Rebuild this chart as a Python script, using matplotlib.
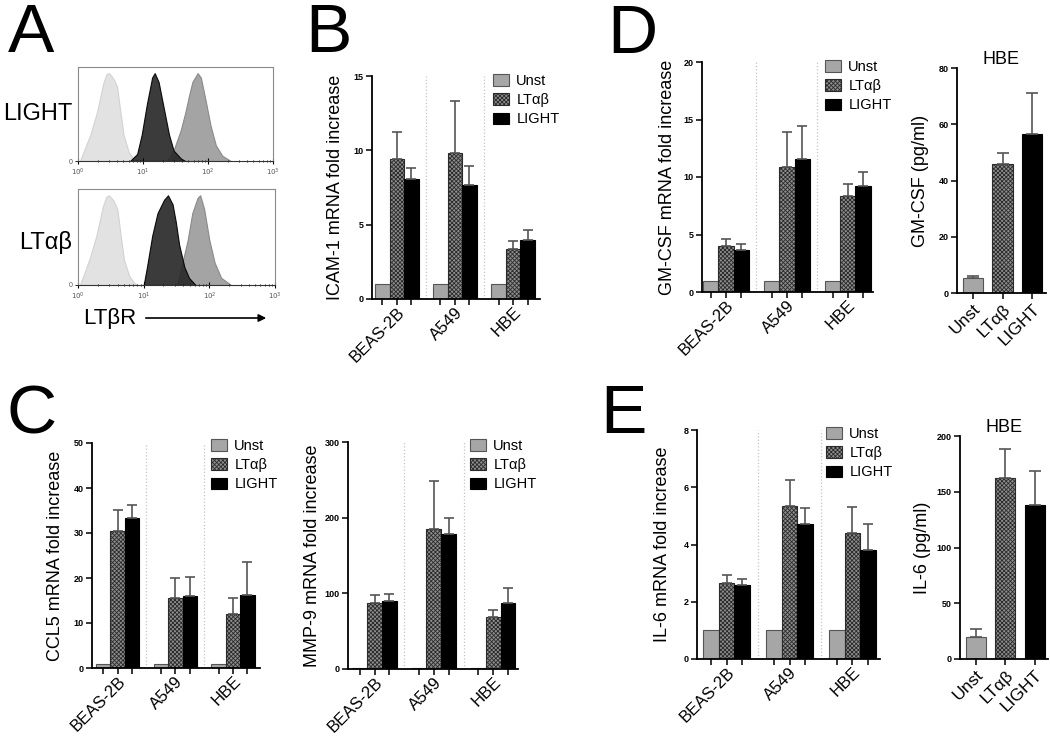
import matplotlib
matplotlib.use("Agg")
import matplotlib.pyplot as plt
from matplotlib.patches import Patch, FancyArrowPatch
import numpy as np

plt.rcParams["font.family"] = ["Liberation Sans", "DejaVu Sans"]
plt.rcParams["hatch.linewidth"] = 0.6

W, H = 1050, 740

cell_lines = ["BEAS-2B", "A549", "HBE"]
treatments = ["Unst", "LTαβ", "LIGHT"]

# rows = Unst, LTab, LIGHT ; columns = cell lines
icam_means = [[1.0, 1.0, 1.0], [9.45, 9.8, 3.33], [8.05, 7.65, 3.96]]
icam_err = [[0, 0, 0], [1.75, 3.5, 0.54], [0.75, 1.3, 0.67]]

gmcsf_means = [[1.0, 1.0, 1.0], [3.97, 10.9, 8.36], [3.68, 11.6, 9.25]]
gmcsf_err = [[0, 0, 0], [0.63, 3.0, 1.0], [0.5, 2.8, 1.2]]

gmcsf_hbe = [5.3, 45.7, 56.5]
gmcsf_hbe_err = [0.8, 4.2, 14.5]

ccl5_means = [[1.0, 1.0, 1.0], [30.4, 15.5, 11.9], [33.4, 16.0, 16.2]]
ccl5_err = [[0, 0, 0], [4.7, 4.4, 3.7], [2.9, 4.3, 7.4]]

mmp9_means = [[1.0, 1.0, 1.0], [87.8, 184.8, 69.3], [89.5, 178.2, 86.9]]
mmp9_err = [[0, 0, 0], [10.1, 63.1, 8.8], [9.7, 21.6, 20.7]]

il6_means = [[1.0, 1.0, 1.0], [2.66, 5.34, 4.39], [2.58, 4.70, 3.80]]
il6_err = [[0, 0, 0], [0.26, 0.93, 0.93], [0.2, 0.59, 0.91]]

il6_hbe = [19.4, 162.4, 138.5]
il6_hbe_err = [7.8, 25.7, 29.9]

# flow histograms (x in log10 units, y normalised counts)
iso_top_x = [0.03, 0.19, 0.29, 0.39, 0.44, 0.48, 0.55, 0.60, 0.65, 0.70, 0.78, 0.86, 0.91]
iso_top_y = [0.0, 0.3, 0.55, 0.89, 0.99, 1.0, 0.93, 0.85, 0.57, 0.3, 0.1, 0.02, 0.0]
lig_top_x = [0.80, 0.91, 0.98, 1.06, 1.14, 1.18, 1.24, 1.32, 1.40, 1.47, 1.58, 1.65]
lig_top_y = [0.0, 0.08, 0.3, 0.65, 0.95, 1.0, 0.9, 0.6, 0.3, 0.12, 0.03, 0.0]
ctl_top_x = [1.37, 1.47, 1.58, 1.65, 1.71, 1.76, 1.84, 1.89, 1.96, 2.04, 2.12, 2.22, 2.35]
ctl_top_y = [0.0, 0.12, 0.35, 0.55, 0.75, 0.9, 1.0, 0.95, 0.7, 0.4, 0.18, 0.06, 0.0]

iso_bot_x = [0.03, 0.18, 0.28, 0.38, 0.43, 0.47, 0.54, 0.60, 0.65, 0.70, 0.78, 0.86, 0.92]
iso_bot_y = [0.0, 0.3, 0.55, 0.88, 0.98, 1.0, 0.94, 0.84, 0.55, 0.28, 0.1, 0.02, 0.0]
lta_bot_x = [1.0, 1.05, 1.13, 1.21, 1.31, 1.37, 1.44, 1.49, 1.54, 1.62, 1.69, 1.79]
lta_bot_y = [0.0, 0.2, 0.55, 0.8, 0.95, 1.0, 0.9, 0.7, 0.45, 0.2, 0.08, 0.0]
ctl_bot_x = [1.51, 1.59, 1.67, 1.74, 1.82, 1.86, 1.92, 2.0, 2.08, 2.18, 2.33]
ctl_bot_y = [0.0, 0.25, 0.5, 0.8, 0.97, 1.0, 0.85, 0.5, 0.25, 0.08, 0.0]

bar_face = ["#a6a6a6", "#8e8e8e", "black"]
bar_edge = ["#555555", "#2a2a2a", "black"]
bar_hatch = [None, "xxxxxxxx", None]
err_color = "#555555"


def px_axes(fig, left: float, right: float, top: float, bottom: float):
    return fig.add_axes([left / W, 1 - bottom / H, (right - left) / W, (bottom - top) / H])


def style_axes(ax, ylim, yticks, ylabel: str, label_x: float) -> None:
    for s in ["top", "right"]:
        ax.spines[s].set_visible(False)
    for s in ["left", "bottom"]:
        ax.spines[s].set_linewidth(1.3)
    ax.set_ylim(*ylim)
    ax.set_yticks(yticks)
    ax.tick_params(axis="y", direction="out", length=4, width=1.1, labelsize=6.5, pad=2)
    for lbl in ax.get_yticklabels():
        lbl.set_fontweight("bold")
    ax.set_ylabel(ylabel, fontsize=13)
    ax.yaxis.set_label_coords(label_x, 0.5)


def add_legend(ax, fig, x: float, y: float) -> None:
    handles = [Patch(facecolor=bar_face[i], edgecolor=bar_edge[i], hatch=bar_hatch[i],
                     linewidth=0.8, label=treatments[i]) for i in range(3)]
    ax.legend(handles=handles, loc="upper left", bbox_to_anchor=(x / W, 1 - y / H),
              bbox_transform=fig.transFigure, frameon=False, fontsize=10.5,
              handlelength=1.1, handleheight=0.8, handletextpad=0.5,
              labelspacing=0.35, borderpad=0, borderaxespad=0)


def grouped_panel(fig, rect, means, errs, xlim, ylim, yticks, ylabel, label_x, leg_xy):
    ax = px_axes(fig, *rect)
    all_pos = []
    for t in range(3):
        pos = np.arange(3) * 4 + t
        all_pos += list(pos)
        ax.bar(pos, means[t], width=1.0, color=bar_face[t], edgecolor=bar_edge[t],
               hatch=bar_hatch[t], linewidth=0.8, zorder=2)
        if any(e > 0 for e in errs[t]):
            ax.errorbar(pos, means[t], yerr=[np.zeros(3), errs[t]], fmt="none",
                        ecolor=err_color, elinewidth=1.2, capsize=3.5, capthick=1.2, zorder=3)
    for xs in [3, 7]:
        ax.axvline(xs, color="#c4c4c4", ls=":", lw=0.9, zorder=0)
    ax.set_xlim(*xlim)
    ax.xaxis.remove_overlapping_locs = False
    ax.set_xticks(sorted(all_pos))
    ax.set_xticklabels([])
    ax.tick_params(axis="x", which="major", direction="out", length=4, width=1.1)
    ax.set_xticks([1, 5, 9], minor=True)
    ax.set_xticklabels(cell_lines, minor=True, rotation=45, ha="right",
                       rotation_mode="anchor", fontsize=12)
    ax.tick_params(axis="x", which="minor", length=0, pad=4)
    style_axes(ax, ylim, yticks, ylabel, label_x)
    add_legend(ax, fig, *leg_xy)
    return ax


def single_panel(fig, rect, vals, errs, xlim, ylim, yticks, ylabel, label_x):
    ax = px_axes(fig, *rect)
    pos = np.arange(3)
    ax.bar(pos, vals, width=0.68, color=bar_face, edgecolor=bar_edge,
           hatch=bar_hatch, linewidth=0.8, zorder=2)
    ax.errorbar(pos, vals, yerr=[np.zeros(3), errs], fmt="none", ecolor=err_color,
                elinewidth=1.2, capsize=4, capthick=1.2, zorder=3)
    ax.set_xlim(*xlim)
    ax.set_xticks(pos)
    ax.set_xticklabels(treatments, rotation=45, ha="right", rotation_mode="anchor", fontsize=12.5)
    ax.tick_params(axis="x", direction="out", length=4, width=1.1, pad=2)
    style_axes(ax, ylim, yticks, ylabel, label_x)
    ax.set_title("HBE", fontsize=13, pad=1)
    return ax


def flow_panel(fig, rect, curves) -> None:
    ax = px_axes(fig, *rect)
    for xs, ys, face, edge, alpha in curves:
        ax.fill_between(xs, ys, color=face, edgecolor=edge, linewidth=0.8, alpha=alpha)
    ax.set_xlim(0, 3)
    ax.set_ylim(0, 1.07)
    for s in ax.spines.values():
        s.set_color("#8a8a8a")
        s.set_linewidth(0.8)
    ax.spines["bottom"].set_color("#333333")
    ax.set_xticks([0, 1, 2, 3])
    ax.set_xticklabels(["$10^{0}$", "$10^{1}$", "$10^{2}$", "$10^{3}$"], fontsize=5, color="#555555")
    ax.set_xticks([d + np.log10(m) for d in range(3) for m in range(2, 10)], minor=True)
    ax.tick_params(axis="x", which="major", direction="inout", length=4, width=0.8, pad=2)
    ax.tick_params(axis="x", which="minor", direction="inout", length=2, width=0.6)
    ax.set_yticks([0])
    ax.set_yticklabels(["0"], fontsize=5, color="#555555")
    ax.tick_params(axis="y", length=2, width=0.6, pad=2)


fig = plt.figure(figsize=(10.5, 7.4), dpi=100)

# panel A
flow_panel(fig, (78, 273, 67, 161), [
    (iso_top_x, iso_top_y, "#e2e2e2", "#d2d2d2", 1.0),
    (ctl_top_x, ctl_top_y, "#a4a4a4", "#8a8a8a", 1.0),
    (lig_top_x, lig_top_y, "#2a2a2a", "black", 0.92),
])
flow_panel(fig, (78, 275, 189, 285), [
    (iso_bot_x, iso_bot_y, "#e2e2e2", "#d2d2d2", 1.0),
    (ctl_bot_x, ctl_bot_y, "#a4a4a4", "#8a8a8a", 1.0),
    (lta_bot_x, lta_bot_y, "#2a2a2a", "black", 0.92),
])
fig.text(72 / W, 1 - 114 / H, "LIGHT", ha="right", va="center", fontsize=17)
fig.text(72 / W, 1 - 242 / H, "LTαβ", ha="right", va="center", fontsize=17)
fig.text(83 / W, 1 - 318 / H, "LTβR", ha="left", va="center", fontsize=16)
fig.add_artist(FancyArrowPatch((143 / W, 1 - 318 / H), (269 / W, 1 - 318 / H),
                               transform=fig.transFigure, arrowstyle="-|>",
                               mutation_scale=11, lw=1.2, color="black"))

# panel B
grouped_panel(fig, (372, 540, 76, 299), icam_means, icam_err, (-0.72, 10.86), (0, 15),
              [0, 5, 10, 15], "ICAM-1 mRNA fold increase", -0.167, (493, 74))

# panel D
grouped_panel(fig, (702, 873, 62, 292), gmcsf_means, gmcsf_err, (-0.57, 10.65), (0, 20),
              [0, 5, 10, 15, 20], "GM-CSF mRNA fold increase", -0.152, (825, 60))
single_panel(fig, (957, 1046, 68, 293), gmcsf_hbe, gmcsf_hbe_err, (-0.54, 2.47), (0, 80),
             [0, 20, 40, 60, 80], "GM-CSF (pg/ml)", -0.315)

# panel C
grouped_panel(fig, (92, 260, 443, 668), ccl5_means, ccl5_err, (-0.78, 10.875), (0, 50),
              [0, 10, 20, 30, 40, 50], "CCL5 mRNA fold increase", -0.167, (211, 439))
grouped_panel(fig, (348, 518, 442, 669), mmp9_means, mmp9_err, (-0.80, 10.68), (0, 300),
              [0, 100, 200, 300], "MMP-9 mRNA fold increase", -0.159, (470, 439))

# panel E
grouped_panel(fig, (697, 880, 430, 659), il6_means, il6_err, (-0.88, 10.75), (0, 8),
              [0, 2, 4, 6, 8], "IL-6 mRNA fold increase", -0.142, (826, 427))
single_panel(fig, (960, 1048, 436, 659), il6_hbe, il6_hbe_err, (-0.54, 2.45), (0, 200),
             [0, 50, 100, 150, 200], "IL-6 (pg/ml)", -0.33)

for letter, x, y in [("A", 8, 52), ("B", 305, 52), ("D", 607, 53), ("C", 7, 433), ("E", 600, 433)]:
    fig.text(x / W, 1 - y / H, letter, fontsize=50, ha="left", va="baseline")

fig.savefig("out.png", dpi=100)
